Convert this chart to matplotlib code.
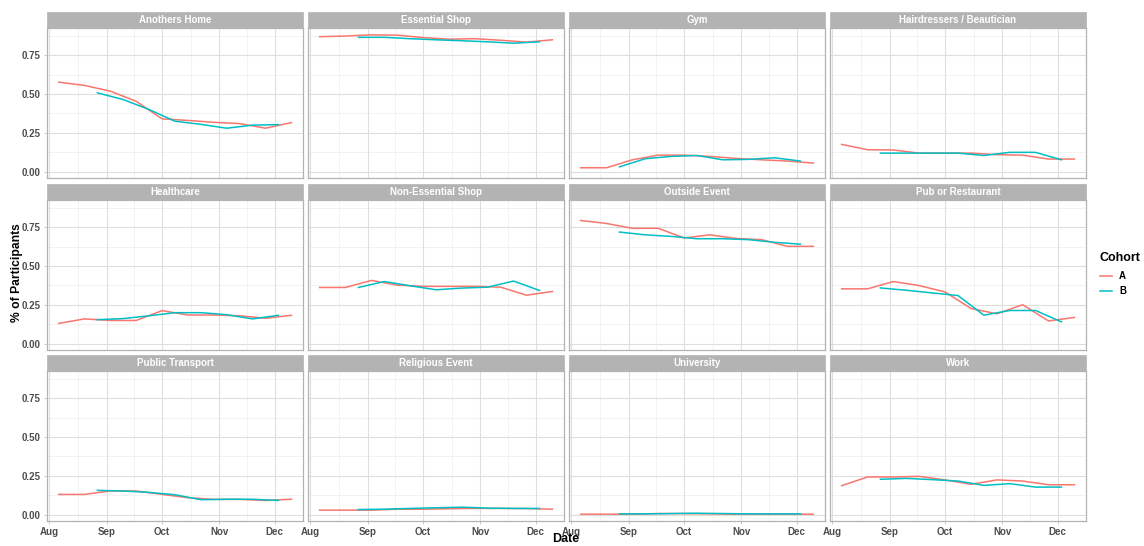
import numpy as np
import pandas as pd
import matplotlib
matplotlib.use('Agg')
import matplotlib.pyplot as plt
import matplotlib.dates as mdates
from matplotlib.patches import Rectangle
from matplotlib.lines import Line2D

plt.rcParams['font.family'] = ['Liberation Sans', 'DejaVu Sans']

# survey waves: cohort A fortnightly from early August, cohort B a week later
dates_a = pd.to_datetime(['2020-08-06', '2020-08-20', '2020-09-03', '2020-09-17',
                          '2020-10-01', '2020-10-15', '2020-10-29', '2020-11-12',
                          '2020-11-26', '2020-12-10'])
dates_b = pd.to_datetime(['2020-08-27', '2020-09-10', '2020-09-24', '2020-10-08',
                          '2020-10-22', '2020-11-05', '2020-11-19', '2020-12-03'])

places = ['Anothers Home', 'Essential Shop', 'Gym', 'Hairdressers / Beautician',
          'Healthcare', 'Non-Essential Shop', 'Outside Event', 'Pub or Restaurant',
          'Public Transport', 'Religious Event', 'University', 'Work']

anothers_home_a = [0.576, 0.555, 0.518, 0.453, 0.340, 0.330, 0.318, 0.310, 0.280, 0.316]
anothers_home_b = [0.507, 0.464, 0.400, 0.325, 0.305, 0.280, 0.300, 0.303]
essential_shop_a = [0.868, 0.872, 0.880, 0.878, 0.862, 0.852, 0.855, 0.845, 0.833, 0.848]
essential_shop_b = [0.864, 0.864, 0.855, 0.848, 0.842, 0.835, 0.826, 0.835]
gym_a = [0.026, 0.026, 0.077, 0.107, 0.107, 0.099, 0.086, 0.077, 0.069, 0.056]
gym_b = [0.032, 0.084, 0.099, 0.105, 0.077, 0.080, 0.090, 0.069]
hairdressers_a = [0.176, 0.142, 0.140, 0.120, 0.120, 0.120, 0.110, 0.107, 0.082, 0.082]
hairdressers_b = [0.120, 0.120, 0.120, 0.120, 0.105, 0.125, 0.125, 0.077]
healthcare_a = [0.131, 0.160, 0.150, 0.150, 0.213, 0.185, 0.185, 0.180, 0.164, 0.183]
healthcare_b = [0.155, 0.162, 0.180, 0.200, 0.200, 0.187, 0.160, 0.183]
non_essential_a = [0.362, 0.362, 0.407, 0.377, 0.369, 0.369, 0.369, 0.364, 0.312, 0.336]
non_essential_b = [0.362, 0.400, 0.373, 0.347, 0.358, 0.364, 0.403, 0.343]
outside_event_a = [0.792, 0.773, 0.742, 0.742, 0.680, 0.700, 0.677, 0.669, 0.626, 0.626]
outside_event_b = [0.718, 0.700, 0.690, 0.675, 0.675, 0.669, 0.652, 0.640]
pub_a = [0.353, 0.353, 0.400, 0.374, 0.333, 0.227, 0.193, 0.251, 0.147, 0.169]
pub_b = [0.359, 0.344, 0.327, 0.310, 0.184, 0.214, 0.214, 0.141]
transport_a = [0.131, 0.131, 0.153, 0.153, 0.131, 0.110, 0.099, 0.099, 0.092, 0.100]
transport_b = [0.157, 0.153, 0.144, 0.129, 0.097, 0.100, 0.100, 0.092]
religious_a = [0.030, 0.030, 0.030, 0.036, 0.036, 0.039, 0.041, 0.041, 0.040, 0.036]
religious_b = [0.034, 0.036, 0.041, 0.045, 0.049, 0.043, 0.041, 0.041]
university_a = [0.004, 0.004, 0.004, 0.008, 0.008, 0.006, 0.004, 0.004, 0.004, 0.004]
university_b = [0.006, 0.006, 0.008, 0.010, 0.008, 0.006, 0.006, 0.006]
work_a = [0.187, 0.243, 0.243, 0.247, 0.224, 0.196, 0.224, 0.217, 0.193, 0.193]
work_b = [0.228, 0.234, 0.226, 0.217, 0.189, 0.200, 0.178, 0.178]

cohort_a = [anothers_home_a, essential_shop_a, gym_a, hairdressers_a, healthcare_a,
            non_essential_a, outside_event_a, pub_a, transport_a, religious_a,
            university_a, work_a]
cohort_b = [anothers_home_b, essential_shop_b, gym_b, hairdressers_b, healthcare_b,
            non_essential_b, outside_event_b, pub_b, transport_b, religious_b,
            university_b, work_b]

col_a = '#F8766D'
col_b = '#00BFC4'
grid_major = '#DEDEDE'
grid_minor = '#EDEDED'
border = '#B3B3B3'
tick_txt = '#4D4D4D'

W, H = 1144, 546
fig = plt.figure(figsize=(W / 100, H / 100), dpi=100)

col_left = [47, 308, 569, 830]
panel_w = 256
row_top = [28, 200, 371]
panel_h = 150
strip_h = 16

# shared scales with ggplot-style 5% expansion
allv = np.concatenate([np.concatenate(cohort_a), np.concatenate(cohort_b)])
ypad = 0.05 * (allv.max() - allv.min())
ylim = (allv.min() - ypad, allv.max() + ypad)
x0 = mdates.date2num(min(dates_a.min(), dates_b.min()))
x1 = mdates.date2num(max(dates_a.max(), dates_b.max()))
xpad = 0.05 * (x1 - x0)
xlim = (x0 - xpad, x1 + xpad)

month_ticks = mdates.date2num(pd.to_datetime(['2020-08-01', '2020-09-01', '2020-10-01',
                                               '2020-11-01', '2020-12-01']))
month_labels = ['Aug', 'Sep', 'Oct', 'Nov', 'Dec']
minor_x = (month_ticks[:-1] + month_ticks[1:]) / 2
minor_x = np.append(minor_x, month_ticks[-1] + 15.5)
y_ticks = [0.0, 0.25, 0.5, 0.75]
minor_y = [0.125, 0.375, 0.625, 0.875]

for i, place in enumerate(places):
    r, c = divmod(i, 4)
    left = col_left[c]
    top = row_top[r]
    ax = fig.add_axes([left / W, 1 - (top + panel_h) / H, panel_w / W, panel_h / H])
    ax.set_facecolor('white')
    for v in minor_x:
        ax.axvline(v, color=grid_minor, lw=0.5, zorder=0)
    for v in minor_y:
        ax.axhline(v, color=grid_minor, lw=0.5, zorder=0)
    for v in month_ticks:
        ax.axvline(v, color=grid_major, lw=0.8, zorder=0)
    for v in y_ticks:
        ax.axhline(v, color=grid_major, lw=0.8, zorder=0)

    ax.plot(mdates.date2num(dates_a), cohort_a[i], color=col_a, lw=1.1, zorder=2)
    ax.plot(mdates.date2num(dates_b), cohort_b[i], color=col_b, lw=1.1, zorder=3)

    ax.set_xlim(xlim)
    ax.set_ylim(ylim)
    for s in ax.spines.values():
        s.set_color(border)
        s.set_linewidth(0.9)

    ax.set_xticks(month_ticks)
    ax.set_yticks(y_ticks)
    ax.tick_params(length=2.5, width=0.5, color=border, pad=2)
    if r == 2:
        ax.set_xticklabels(month_labels, fontsize=7, fontweight='bold', color=tick_txt)
    else:
        ax.tick_params(axis='x', length=0, labelbottom=False)
    if c == 0:
        ax.set_yticklabels(['0.00', '0.25', '0.50', '0.75'], fontsize=7,
                           fontweight='bold', color=tick_txt)
    else:
        ax.tick_params(axis='y', length=0, labelleft=False)

    # facet strip
    fig.patches.append(Rectangle((left / W, 1 - top / H), panel_w / W, strip_h / H,
                                 transform=fig.transFigure, facecolor=border,
                                 edgecolor=border, lw=0.5))
    fig.text((left + panel_w / 2) / W, 1 - (top - strip_h / 2) / H, place,
             ha='center', va='center', color='white', fontsize=7, fontweight='bold')

fig.text(17 / W, 1 - 273 / H, '% of Participants', rotation=90, ha='center',
         va='center', fontsize=8.7, fontweight='bold', color='black')
fig.text(566 / W, 1 - 545 / H, 'Date', ha='center', va='bottom', fontsize=9,
         fontweight='bold', color='black')

# legend
fig.text(1099 / W, 1 - 258 / H, 'Cohort', ha='left', va='center', fontsize=9,
         fontweight='bold', color='black')
for k, (lab, colr) in enumerate([('A', col_a), ('B', col_b)]):
    yy = 1 - (276 + 15 * k) / H
    fig.add_artist(Line2D([1100 / W, 1112 / W], [yy, yy], color=colr, lw=1.1,
                          transform=fig.transFigure))
    fig.text(1119 / W, yy, lab, ha='left', va='center', fontsize=7,
             fontweight='bold', color='black')

fig.savefig('out.png', dpi=100, facecolor='white')
plt.close(fig)
